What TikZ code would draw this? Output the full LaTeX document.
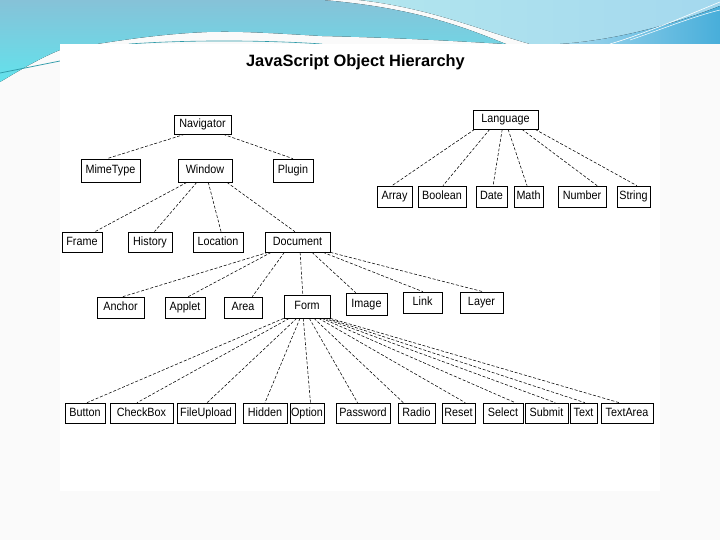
\documentclass[tikz,border=0pt]{standalone}
\usepackage{fontspec}
\setmainfont{Liberation Sans}
\newfontfamily\boxfont[FakeStretch=0.9]{Liberation Sans}
\usetikzlibrary{calc}
\definecolor{pagebg}{HTML}{FAFAFA}
\definecolor{wavetop}{HTML}{86C2D8}
\definecolor{wavecyan}{HTML}{62E2EC}
\definecolor{lightA}{HTML}{B2E6EE}
\definecolor{lightB}{HTML}{A4D8EE}
\definecolor{darkwave}{HTML}{48AEDA}
\definecolor{tealline}{HTML}{2E9AA8}
\tikzset{
  jsbox/.style={draw=black, line width=0.7pt, fill=white, inner sep=0pt,
    text height=8.8pt, text depth=2.6pt,
    font=\boxfont\fontsize{12}{12}\selectfont},
  jsline/.style={draw=black, line width=0.55pt, dash pattern=on 3pt off 1.8pt},
}
\newcommand\jsbox[6]{\node[jsbox, minimum width={#4pt-#2pt}, minimum height={#5pt-#3pt}] (#1) at ({(#2+#4)/2},{(#3+#5)/2}) {#6};}
\newcommand\jsconn[4]{\draw[jsline] ($(#1.south west)!#2!(#1.south east)$) -- ($(#3.north west)!#4!(#3.north east)$);}
\begin{document}
\begin{tikzpicture}[x=1pt,y=-1pt]
\useasboundingbox (0,0) rectangle (720,540);
\fill[pagebg] (0,0) rectangle (720,540);
% top waves
\fill[top color=wavetop, bottom color=wavecyan] (0,0) -- (322,0) .. controls (420,8) and (470,30) .. (506,44)
  .. controls (470,42) and (410,38) .. (322,36) .. controls (270,33) and (240,31) .. (207,32)
  .. controls (160,34) and (120,40) .. (60,50) .. controls (40,58) and (20,70) .. (0,82) -- cycle;
\fill[left color=lightA, right color=lightB] (359,0) -- (720,0) -- (720,44) -- (530,44) .. controls (480,30) and (430,8) .. (359,0) -- cycle;
\fill[left color=lightB, right color=darkwave] (560,44) .. controls (620,40) and (680,22) .. (720,6) -- (720,44) -- cycle;
\draw[white, line width=0.6pt] (610,44) .. controls (650,32) and (690,14) .. (720,2);
\draw[white, line width=0.5pt] (630,40) .. controls (665,28) and (695,16) .. (720,10);
\draw[tealline, line width=0.7pt] (0,73) -- (60,61);
\draw[tealline, line width=0.6pt] (129,44) .. controls (200,39) and (280,41) .. (322,44);
% panel
\fill[white] (60,44) rectangle (660,491);
% title
\node[font=\bfseries\fontsize{16.4}{18}\selectfont] (title) at (355.5,62) {JavaScript Object Hierarchy};
% boxes
\jsbox{nav}{174}{115}{231}{134}{Navigator}
\jsbox{mime}{81}{159}{140}{182}{MimeType}
\jsbox{win}{178}{159}{232}{182}{Window}
\jsbox{plug}{273}{159}{313}{182}{Plugin}
\jsbox{lang}{473}{110}{538}{129}{Language}
\jsbox{arr}{377}{186}{412}{207}{Array}
\jsbox{bool}{418}{186}{466}{207}{Boolean}
\jsbox{date}{476}{186}{507}{207}{Date}
\jsbox{math}{514}{186}{543}{207}{Math}
\jsbox{num}{558}{186}{606}{207}{Number}
\jsbox{str}{617}{186}{650}{207}{String}
\jsbox{frame}{62}{232}{102}{252}{Frame}
\jsbox{hist}{128}{232}{172}{252}{History}
\jsbox{loc}{193}{232}{243}{252}{Location}
\jsbox{doc}{265}{232}{330}{252}{Document}
\jsbox{anch}{97}{297}{144}{318}{Anchor}
\jsbox{appl}{165}{297}{205}{318}{Applet}
\jsbox{area}{224}{297}{262}{318}{Area}
\jsbox{form}{284}{295}{330}{318}{Form}
\jsbox{img}{346}{293}{387}{315}{Image}
\jsbox{link}{403}{292}{442}{313}{Link}
\jsbox{layer}{460}{292}{503}{313}{Layer}
\jsbox{btn}{65}{403}{105}{423}{Button}
\jsbox{chk}{110}{403}{173}{423}{CheckBox}
\jsbox{file}{177}{403}{235}{423}{FileUpload}
\jsbox{hid}{243}{403}{287}{423}{Hidden}
\jsbox{opt}{290}{403}{324}{423}{Option}
\jsbox{pwd}{336}{403}{390}{423}{Password}
\jsbox{radio}{398}{403}{435}{423}{Radio}
\jsbox{reset}{442}{403}{475}{423}{Reset}
\jsbox{sel}{483}{403}{523}{423}{Select}
\jsbox{sub}{525}{403}{568}{423}{Submit}
\jsbox{txt}{570}{403}{597}{423}{Text}
\jsbox{tarea}{601}{403}{653}{423}{TextArea}
% connectors
\jsconn{nav}{.19}{mime}{.44}
\jsconn{nav}{.86}{plug}{.5}
\jsconn{win}{.17}{frame}{.82}
\jsconn{win}{.35}{hist}{.6}
\jsconn{win}{.56}{loc}{.56}
\jsconn{win}{.9}{doc}{.46}
\jsconn{lang}{.03}{arr}{.43}
\jsconn{lang}{.26}{bool}{.52}
\jsconn{lang}{.45}{date}{.55}
\jsconn{lang}{.54}{math}{.45}
\jsconn{lang}{.75}{num}{.81}
\jsconn{lang}{.95}{str}{.6}
\jsconn{doc}{.05}{anch}{.55}
\jsconn{doc}{.1}{appl}{.58}
\jsconn{doc}{.3}{area}{.74}
\jsconn{doc}{.54}{form}{.41}
\jsconn{doc}{.72}{img}{.24}
\jsconn{doc}{.89}{link}{.51}
\jsconn{doc}{1}{layer}{.53}
\jsconn{form}{0}{btn}{.55}
\jsconn{form}{.12}{chk}{.43}
\jsconn{form}{.28}{file}{.52}
\jsconn{form}{.35}{hid}{.5}
\jsconn{form}{.42}{opt}{.6}
\jsconn{form}{.55}{pwd}{.4}
\jsconn{form}{.65}{radio}{.15}
\jsconn{form}{.75}{reset}{.7}
\jsconn{form}{.82}{sel}{.8}
\jsconn{form}{.88}{sub}{.7}
\jsconn{form}{.94}{txt}{.55}
\jsconn{form}{1}{tarea}{.35}
\end{tikzpicture}
\end{document}
